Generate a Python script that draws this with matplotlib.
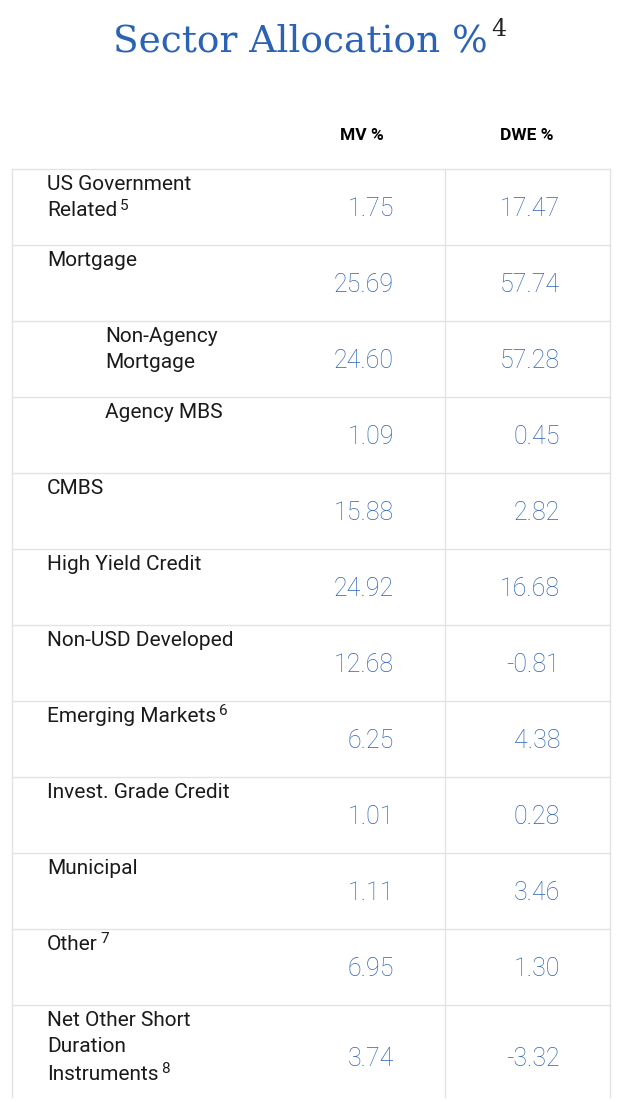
import matplotlib
matplotlib.use("Agg")
import matplotlib.pyplot as plt

labels = ["US Government\nRelated", "Mortgage", "Non-Agency\nMortgage", "Agency MBS", "CMBS",
          "High Yield Credit", "Non-USD Developed", "Emerging Markets", "Invest. Grade Credit",
          "Municipal", "Other", "Net Other Short\nDuration\nInstruments"]
notes = ["5", "", "", "", "", "", "", "6", "", "", "7", "8"]
indent = [False, False, True, True, False, False, False, False, False, False, False, False]
mv = ["1.75", "25.69", "24.60", "1.09", "15.88", "24.92", "12.68", "6.25", "1.01", "1.11", "6.95", "3.74"]
dwe = ["17.47", "57.74", "57.28", "0.45", "2.82", "16.68", "-0.81", "4.38", "0.28", "3.46", "1.30", "-3.32"]

BLUE = "#2b62b6"
GRID = "#e3e3e3"

fig = plt.figure(figsize=(6.4, 11.02), dpi=100)
ax = fig.add_axes([0, 0, 1, 1])
ax.set_xlim(0, 640)
ax.set_ylim(1102, 0)
ax.axis("off")

title = ax.text(300, 42, "Sector Allocation %", color=BLUE, fontsize=27, family="DejaVu Serif",
                ha="center", va="center")
ax.annotate("4", xy=(1, 1), xycoords=title, xytext=(3, 4), textcoords="offset points",
            fontsize=17, family="DejaVu Serif", ha="left", va="top", color="#222222")

ax.text(362, 136, "MV %", fontsize=12.5, fontweight="bold", ha="center", va="center",
        family="Roboto", fontstretch="condensed")
ax.text(527, 136, "DWE %", fontsize=12.5, fontweight="bold", ha="center", va="center",
        family="Roboto", fontstretch="condensed")

top = 169
rh = 76
n = len(labels)
bottom = top + rh * (n - 1) + 92
ax.plot([12, 12], [top, bottom], color=GRID, lw=1)
ax.plot([610, 610], [top, bottom], color=GRID, lw=1)
ax.plot([445, 445], [top, bottom], color=GRID, lw=1)
ax.plot([12, 610], [top, top], color=GRID, lw=1)

for i in range(n):
    y0 = top + rh * i
    if i > 0:
        ax.plot([12, 610], [y0, y0], color=GRID, lw=1)
    x = 105 if indent[i] else 47
    lines = labels[i].split("\n")
    for j, line in enumerate(lines):
        tx = ax.text(x, y0 + 15 + 27 * j, line, fontsize=15, family="Roboto", va="center",
                     ha="left", color="#1a1a1a")
        if j == len(lines) - 1 and notes[i]:
            ax.annotate(notes[i], xy=(1, 1), xycoords=tx, xytext=(2, 2),
                        textcoords="offset points", fontsize=11, family="Roboto",
                        va="top", ha="left", color="#1a1a1a")
    yv = y0 + 40 if i < n - 1 else y0 + 54
    ax.text(394, yv, mv[i], fontsize=18, family="Roboto", fontweight="light",
            ha="right", va="center", color=BLUE)
    ax.text(560, yv, dwe[i], fontsize=18, family="Roboto", fontweight="light",
            ha="right", va="center", color=BLUE)

fig.savefig("out.png", dpi=100, facecolor="white")
